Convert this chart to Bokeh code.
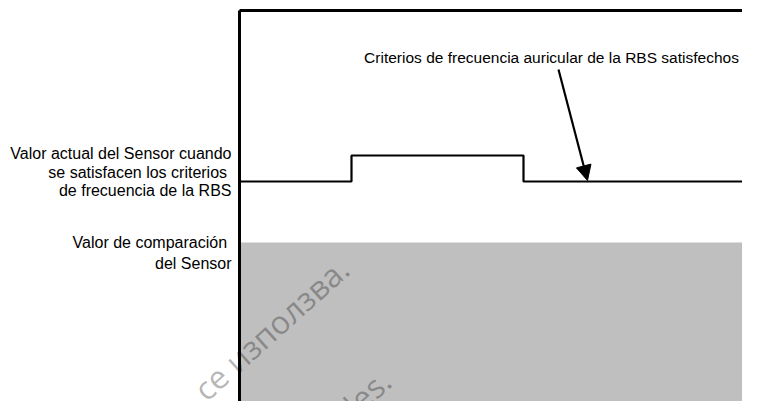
from bokeh.plotting import figure
from bokeh.models import Range1d, Label, Arrow, NormalHead
from bokeh.embed import file_html
from bokeh.resources import INLINE

# Signal timeline (time units from the vertical axis, levels in sensor units)
step_times = [0, 112, 112, 284, 284, 503]
step_levels = [228, 228, 254, 254, 228, 228]
comparison_level = 167
axis_top = 399
x_end = 503
x_start = -239
y_bottom = 8
y_top = 409

left_labels = ["Valor actual del Sensor cuando", "se satisfacen los criterios ", "de frecuencia de la RBS"]
left_labels2 = ["Valor de comparación ", "del Sensor"]
annotation = "Criterios de frecuencia auricular de la RBS satisfechos"
watermarks = ["се използва.", "des."]

W, H = 742, 401
p = figure(width=W, height=H, output_backend="svg", toolbar_location=None,
           x_range=Range1d(x_start, x_end), y_range=Range1d(y_bottom, y_top),
           min_border=0)
p.axis.visible = False
p.grid.visible = False
p.outline_line_color = None
p.background_fill_color = "white"
p.border_fill_color = "white"

# gray comparison region
p.quad(left=[0], right=[x_end], bottom=[y_bottom], top=[comparison_level],
       fill_color="#bfbfbf", line_color=None)

# watermark
wm = dict(text_font="Open Sans", text_font_size="32px", text_color="black",
          text_alpha=0.3, angle=0.73, text_align="right", text_baseline="alphabetic")
p.add_layout(Label(x=104, y=146, text=watermarks[0], **wm))
p.add_layout(Label(x=146, y=34, text=watermarks[1], **wm))

# frame lines
p.line([0, 0], [y_bottom, axis_top], line_color="black", line_width=3)
p.line([0, x_end], [axis_top, axis_top], line_color="black", line_width=3)

# step signal
p.line(step_times, step_levels, line_color="black", line_width=2.2)

# arrow
p.add_layout(Arrow(end=NormalHead(size=15, fill_color="black", line_color="black"),
                   x_start=319, y_start=340, x_end=348, y_end=229,
                   line_color="black", line_width=2.2))

lab = dict(text_font="Liberation Sans", text_font_size="16px", text_color="black",
           text_align="right", text_baseline="middle")
ys1 = [256, 237, 219]
for t, yy in zip(left_labels, ys1):
    p.add_layout(Label(x=-8, y=yy, text=t, **lab))
ys2 = [167, 146]
for t, yy in zip(left_labels2, ys2):
    p.add_layout(Label(x=-8, y=yy, text=t, **lab))

p.add_layout(Label(x=312, y=352, text=annotation, text_font="Liberation Sans",
                   text_font_size="15.5px", text_color="black",
                   text_align="center", text_baseline="middle"))

open("out.html", "w").write(file_html(p, INLINE))
